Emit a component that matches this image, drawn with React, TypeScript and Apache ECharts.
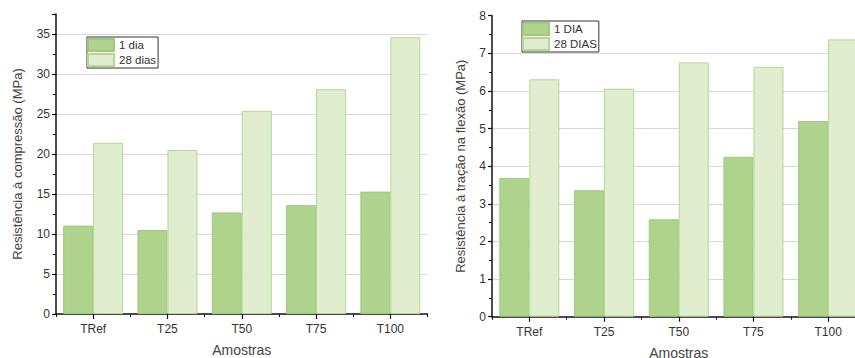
import React, { useEffect, useRef } from "react";
import * as echarts from "echarts";

const categories = ["TRef", "T25", "T50", "T75", "T100"];
const compressao1Dia = [11.05, 10.5, 12.7, 13.6, 15.3];
const compressao28Dias = [21.4, 20.5, 25.4, 28.1, 34.6];
const flexao1Dia = [3.69, 3.36, 2.59, 4.25, 5.2];
const flexao28Dias = [6.31, 6.06, 6.76, 6.64, 7.37];

const darkFill = "#afd28c";
const darkBorder = "#a0c97e";
const lightFill = "#e0eecf";
const lightBorder = "#b3d794";
const font = "Arial, 'Liberation Sans', sans-serif";
const textColor = "#333";

export default function App() {
  const ref = useRef<HTMLDivElement>(null);
  useEffect(() => {
    document.body.style.margin = "0";
    const chart = echarts.init(ref.current!, null, { renderer: "svg" });
    const makeY = (gridIndex: number, max: number, interval: number, name: string) => ({
      type: "value",
      gridIndex,
      min: 0,
      max,
      interval,
      name,
      nameLocation: "middle",
      nameGap: gridIndex === 0 ? 32 : 25,
      nameTextStyle: { fontSize: 13, color: "#444", fontFamily: font },
      axisLine: { show: true, lineStyle: { color: "#111", width: 1.5 } },
      axisTick: { show: true, length: 4, lineStyle: { color: "#111", width: 1.2 } },
      minorTick: { show: true, splitNumber: 2, length: 3, lineStyle: { color: "#111", width: 1 } },
      axisLabel: { fontSize: 12, color: textColor, fontFamily: font, margin: 6, showMaxLabel: gridIndex === 1 },
      splitLine: { show: true, showMaxLine: false, showMinLine: false, lineStyle: { color: "#d8d8d8", width: 1 } },
    });
    const makeXMain = (gridIndex: number) => ({
      type: "category",
      gridIndex,
      data: categories,
      name: "Amostras",
      nameLocation: "middle",
      nameGap: 29,
      nameTextStyle: { fontSize: 14, color: "#444", fontFamily: font },
      axisLine: { show: true, lineStyle: { color: "#111", width: 1.5 } },
      axisTick: { show: true, alignWithLabel: true, length: 5, lineStyle: { color: "#111", width: 1.2 } },
      axisLabel: { fontSize: 12, color: textColor, fontFamily: font, margin: 9 },
      splitLine: { show: false },
    });
    const makeXMinor = (gridIndex: number) => ({
      type: "category",
      gridIndex,
      data: categories,
      position: "bottom",
      axisLine: { show: false },
      axisTick: { show: true, length: 3, lineStyle: { color: "#111", width: 1 } },
      axisLabel: { show: false },
      splitLine: { show: false },
    });
    const darkStyle = { color: darkFill, borderColor: darkBorder, borderWidth: 1 };
    const lightStyle = { color: lightFill, borderColor: lightBorder, borderWidth: 1 };
    const legendBase = {
      orient: "vertical",
      itemWidth: 26,
      itemHeight: 12,
      itemGap: 1,
      padding: [1, 2, 1, 0],
      borderColor: "#333",
      borderWidth: 1,
      icon: "rect",
      textStyle: { fontSize: 11.5, color: textColor, fontFamily: font, lineHeight: 13 },
    };
    chart.setOption({
      animation: false,
      backgroundColor: "#fff",
      textStyle: { fontFamily: font },
      grid: [
        { left: 56, top: 14, width: 371.5, bottom: 44, containLabel: false, outerBoundsMode: "none" },
        { left: 492, top: 15.7, width: 373.5, bottom: 41.3, containLabel: false, outerBoundsMode: "none" },
      ],
      legend: [
        { ...legendBase, left: 87, top: 37, data: ["1 dia", "28 dias"] },
        { ...legendBase, left: 522, top: 21, data: ["1 DIA", "28 DIAS"] },
      ],
      xAxis: [makeXMain(0), makeXMinor(0), makeXMain(1), makeXMinor(1)],
      yAxis: [
        makeY(0, 37.5, 5, "Resistência à compressão (MPa)"),
        makeY(1, 8, 1, "Resistência à tração na flexão (MPa)"),
      ],
      series: [
        { name: "1 dia", type: "bar", xAxisIndex: 0, yAxisIndex: 0, data: compressao1Dia, barWidth: 30, barGap: "0%", itemStyle: darkStyle },
        { name: "28 dias", type: "bar", xAxisIndex: 0, yAxisIndex: 0, data: compressao28Dias, barWidth: 30, barGap: "0%", itemStyle: lightStyle },
        { name: "1 DIA", type: "bar", xAxisIndex: 2, yAxisIndex: 1, data: flexao1Dia, barWidth: 30, barGap: "0%", itemStyle: darkStyle },
        { name: "28 DIAS", type: "bar", xAxisIndex: 2, yAxisIndex: 1, data: flexao28Dias, barWidth: 30, barGap: "0%", itemStyle: lightStyle },
      ],
    });
    return () => chart.dispose();
  }, []);
  return <div ref={ref} style={{ width: 855, height: 358 }} />;
}
